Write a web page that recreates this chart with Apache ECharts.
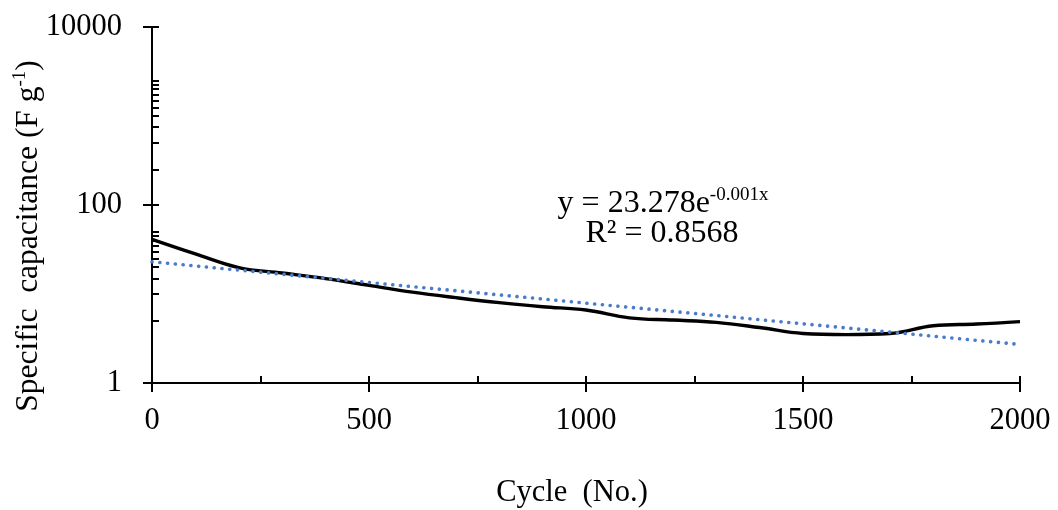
<!DOCTYPE html>
<html>
<head>
<meta charset="utf-8">
<script src="https://cdn.jsdelivr.net/npm/echarts@6/dist/echarts.min.js"></script>
<style>html,body{margin:0;padding:0;background:#fff;}#c{width:1058px;height:510px;}</style>
</head>
<body>
<div id="c"></div>
<script>
// ---- data ----
const cycles = [0, 100, 200, 300, 400, 500, 600, 700, 800, 900, 1000, 1100, 1200, 1300, 1400, 1500, 1600, 1700, 1800, 1900, 2000];
const capacitance = [41.1, 28.2, 19.8, 17.2, 14.9, 12.5, 10.5, 9.1, 8.0, 7.2, 6.6, 5.4, 5.1, 4.8, 4.2, 3.6, 3.5, 3.6, 4.4, 4.6, 4.9];
const trendCycles = [0, 2000];
const trendValues = [23.0, 2.71];
const xMajorTicks = [0, 500, 1000, 1500, 2000];
const xMinorTicks = [250, 500, 750, 1000, 1250, 1500, 1750, 2000];
const yMajorTicks = [1, 100, 10000];
const yMinorTicks = [5, 10, 15, 20, 25, 30, 35, 40, 45, 50, 100, 250, 500, 750, 1000, 1250, 1500, 1750, 2000, 2250, 2500, 10000];
const xTitle = 'Cycle  (No.)';
const yTitle = 'Specific  capacitance (F g';
const eqMain = 'y = 23.278e';
const eqExp = '-0.001x';
const r2Text = 'R² = 0.8568';

const FONT = "'Liberation Serif','Times New Roman',serif";
const chart = echarts.init(document.getElementById('c'), null, {renderer: 'canvas'});

const axisText = {color: '#000', fontFamily: FONT, fontSize: 30.5};
chart.setOption({
  animation: false,
  backgroundColor: '#fff',
  grid: {left: 152, right: 38, top: 27, bottom: 127, containLabel: false},
  xAxis: [
    {type: 'value', min: 0, max: 2000, position: 'bottom',
     axisLine: {show: true, onZero: false, lineStyle: {color: '#000', width: 2}},
     axisTick: {show: true, inside: false, length: 9, customValues: xMajorTicks, lineStyle: {color: '#000', width: 2}},
     axisLabel: {show: true, customValues: xMajorTicks, margin: 22, ...axisText,
       formatter: v => String(Math.round(v))},
     splitLine: {show: false}},
    {type: 'value', min: 0, max: 2000, position: 'bottom',
     axisLine: {show: false},
     axisTick: {show: true, inside: true, length: 7, customValues: xMinorTicks, lineStyle: {color: '#000', width: 2}},
     axisLabel: {show: false}, splitLine: {show: false}}
  ],
  yAxis: [
    {type: 'log', logBase: 100, min: 1, max: 10000, position: 'left',
     axisLine: {show: true, onZero: false, lineStyle: {color: '#000', width: 2}},
     axisTick: {show: true, inside: false, length: 9, customValues: yMajorTicks, lineStyle: {color: '#000', width: 2}},
     axisLabel: {show: true, customValues: yMajorTicks, margin: 30, ...axisText,
       formatter: v => String(Math.round(v))},
     splitLine: {show: false}, minorTick: {show: false}},
    {type: 'log', logBase: 100, min: 1, max: 10000, position: 'left',
     axisLine: {show: false},
     axisTick: {show: true, inside: true, length: 7, customValues: yMinorTicks, lineStyle: {color: '#000', width: 2}},
     axisLabel: {show: false}, splitLine: {show: false}}
  ],
  series: [
    {type: 'line', xAxisIndex: 0, yAxisIndex: 0, smooth: 0.4, showSymbol: false,
     data: cycles.map((c, i) => [c, capacitance[i]]),
     lineStyle: {color: '#000', width: 3.4}, z: 3},
    {type: 'line', xAxisIndex: 0, yAxisIndex: 0, showSymbol: false,
     data: trendCycles.map((c, i) => [c, trendValues[i]]),
     lineStyle: {color: '#4A7CC9', width: 3.6, type: [0.1, 7.7], cap: 'round'}, z: 4}
  ],
  graphic: [
    {type: 'text', x: 572, y: 493, style: {text: xTitle, font: '30.5px ' + FONT, fill: '#000', align: 'center', verticalAlign: 'middle'}},
    {type: 'text', x: 29, y: 236, rotation: Math.PI / 2,
     style: {text: '{a|' + yTitle + '}{s|-1}{a|)}', align: 'center', verticalAlign: 'middle', fill: '#000',
       rich: {a: {fontFamily: FONT, fontSize: 31.5, lineHeight: 36, fill: '#000'},
              s: {fontFamily: FONT, fontSize: 19, lineHeight: 36, verticalAlign: 'top', fill: '#000'}}}},
    {type: 'text', x: 663, y: 204,
     style: {text: '{a|' + eqMain + '}{s|' + eqExp + '}', align: 'center', verticalAlign: 'middle', fill: '#000',
       rich: {a: {fontFamily: FONT, fontSize: 32, lineHeight: 36, fill: '#000'},
              s: {fontFamily: FONT, fontSize: 19, lineHeight: 36, verticalAlign: 'top', fill: '#000'}}}},
    {type: 'text', x: 662, y: 234, style: {text: r2Text, font: '32px ' + FONT, fill: '#000', align: 'center', verticalAlign: 'middle'}}
  ]
});
</script>
</body>
</html>
